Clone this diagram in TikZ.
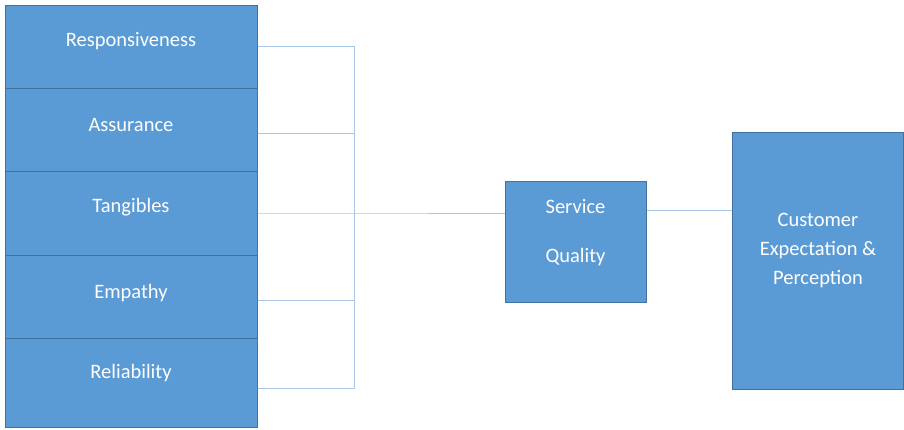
\documentclass[tikz,border=0pt]{standalone}
\usepackage{fontspec}
\setmainfont{Carlito}
\definecolor{boxfill}{HTML}{5B9BD5}
\definecolor{boxline}{HTML}{41719C}
\definecolor{wire}{HTML}{A9C8E8}
\begin{document}
\begin{tikzpicture}[x=1pt,y=-1pt,
  box/.style={draw=boxline,line width=1pt,fill=boxfill,text=white,inner sep=0pt,
    font=\fontsize{20.5}{29}\selectfont,align=center},
  lbl/.style={text=white,font=\fontsize{20.5}{29}\selectfont},
  wire/.style={draw=wire,line width=0.9pt}]
\useasboundingbox (0,0) rectangle (904,429);
% left stack
\node[box,minimum width=252pt,minimum height=83pt,label={[lbl,yshift=5pt]center:Responsiveness}] (r) at (131,46.5) {};
\node[box,minimum width=252pt,minimum height=83pt,label={[lbl,yshift=5pt]center:Assurance}] (a) at (131,129.5) {};
\node[box,minimum width=252pt,minimum height=84pt,label={[lbl,yshift=6pt]center:Tangibles}] (t) at (131,213) {};
\node[box,minimum width=252pt,minimum height=83pt,label={[lbl,yshift=3pt]center:Empathy}] (e) at (131,296.5) {};
\node[box,minimum width=252pt,minimum height=89pt,label={[lbl,yshift=9pt]center:Reliability}] (l) at (131,382.5) {};
% middle and right boxes
\node[box,minimum width=141pt,minimum height=121pt,label={[lbl,align=center,yshift=9pt]center:Service\\[20pt]Quality}] (sq) at (575.5,241.5) {};
\node[box,minimum width=171pt,minimum height=257pt,label={[lbl,align=center,yshift=10pt]center:Customer\\Expectation \&\\Perception}] (ce) at (818,260.5) {};
% connectors
\coordinate (bus) at (354,213);
\coordinate (link) at (690,210);
\draw[wire] (r.east) -| (bus);
\draw[wire] ([yshift=-3.5pt]a.east) -| (bus);
\draw[wire] ([yshift=-5.5pt]l.east) -| (bus);
\draw[wire] ([yshift=-3.5pt]e.east) -| (bus);
\draw[wire] (t.east) -- (bus) -- (sq.west |- bus);
\draw[wire] (sq.east |- link) -- (ce.west |- link);
\end{tikzpicture}
\end{document}
